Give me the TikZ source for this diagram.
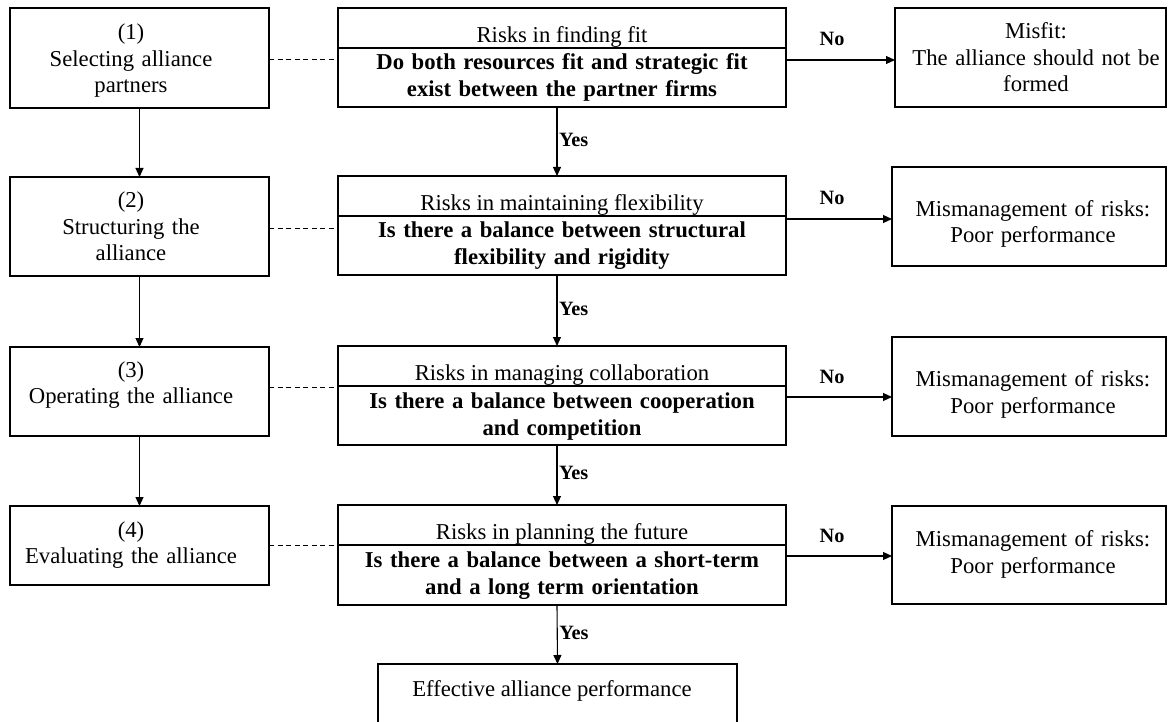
\documentclass[tikz,border=0pt]{standalone}
\usepackage{fontspec}
\setmainfont{Liberation Serif}
\usetikzlibrary{arrows.meta}
\begin{document}
\begin{tikzpicture}[x=1pt,y=-1pt,
  box/.style={draw,line width=1.1pt,inner sep=0pt,outer sep=0pt,anchor=north west},
  norm/.style={font=\fontsize{22.7}{26.3}\selectfont,align=center,inner sep=0pt,anchor=base},
  boldt/.style={font=\fontsize{22.7}{27}\selectfont\bfseries,align=center,inner sep=0pt,anchor=base},
  lab/.style={font=\fontsize{20.3}{24}\selectfont\bfseries,inner sep=1.5pt},
  arr/.style={line width=1.1pt,-{Triangle[length=9pt,width=8pt]}},
  dashline/.style={line width=0.9pt,dash pattern=on 5pt off 3.5pt}]
\useasboundingbox (0,0) rectangle (1168,722);

% left column
\node[box,minimum width=259pt,minimum height=100pt] (L1) at (10,8) {};
\node[box,minimum width=259pt,minimum height=99pt] (L2) at (10,177) {};
\node[box,minimum width=259pt,minimum height=89pt] (L3) at (10,347) {};
\node[box,minimum width=259pt,minimum height=79pt] (L4) at (10,506) {};
\node[norm,text width=250pt] (L1t) at (131,40) {(1)\\Selecting alliance\\partners};
\node[norm,text width=250pt] (L2t) at (131,208) {(2)\\Structuring the\\alliance};
\node[norm,text width=250pt] (L3t) at (131,377) {(3)\\Operating the alliance};
\node[norm,text width=250pt] (L4t) at (131,537) {(4)\\Evaluating the alliance};

% middle column
\node[box,minimum width=448pt,minimum height=99pt] (M1) at (338,8) {};
\node[box,minimum width=448pt,minimum height=99pt] (M2) at (338,176) {};
\node[box,minimum width=448pt,minimum height=99pt] (M3) at (338,346) {};
\node[box,minimum width=448pt,minimum height=100pt] (M4) at (338,505) {};
\coordinate (dv1) at (0,48);
\coordinate (dv2) at (0,216);
\coordinate (dv3) at (0,386);
\coordinate (dv4) at (0,545);
\draw[line width=1.1pt] (M1.west |- dv1) -- (M1.east |- dv1);
\draw[line width=1.1pt] (M2.west |- dv2) -- (M2.east |- dv2);
\draw[line width=1.1pt] (M3.west |- dv3) -- (M3.east |- dv3);
\draw[line width=1.1pt] (M4.west |- dv4) -- (M4.east |- dv4);
\node[norm] (M1a) at (562,42.5) {Risks in finding fit};
\node[norm] (M2a) at (562,210.5) {Risks in maintaining flexibility};
\node[norm] (M3a) at (562,380.5) {Risks in managing collaboration};
\node[norm] (M4a) at (562,539.5) {Risks in planning the future};
\node[boldt,text width=440pt] (M1b) at (562,70) {Do both resources fit and strategic fit\\exist between the partner firms};
\node[boldt,text width=440pt] (M2b) at (562,238) {Is there a balance between structural\\flexibility and rigidity};
\node[boldt,text width=440pt] (M3b) at (562,408) {Is there a balance between cooperation\\and competition};
\node[boldt,text width=440pt] (M4b) at (562,567) {Is there a balance between a short-term\\and a long term orientation};

% right column
\node[box,minimum width=271pt,minimum height=99pt] (R1) at (895,8) {};
\node[box,minimum width=274pt,minimum height=99pt] (R2) at (892,167) {};
\node[box,minimum width=274pt,minimum height=99pt] (R3) at (892,337) {};
\node[box,minimum width=274pt,minimum height=98pt] (R4) at (892,506) {};
\node[norm,text width=265pt] (R1t) at (1036,39) {Misfit:\\The alliance should not be\\formed};
\node[norm,text width=265pt] (R2t) at (1033,216.7) {Mismanagement of risks:\\Poor performance};
\node[norm,text width=265pt] (R3t) at (1033,386.7) {Mismanagement of risks:\\Poor performance};
\node[norm,text width=265pt] (R4t) at (1033,546.7) {Mismanagement of risks:\\Poor performance};

% bottom
\node[box,minimum width=359pt,minimum height=70pt] (B) at (378,664) {};
\node[norm] (Bt) at (552,696) {Effective alliance performance};

% left arrows
\draw[arr] (L1.south) -- (L2.north);
\draw[arr] (L2.south) -- (L3.north);
\draw[arr] (L3.south) -- (L4.north);

% dashed links
\coordinate (d1) at (0,59);
\coordinate (d2) at (0,228);
\coordinate (d3) at (0,387);
\coordinate (d4) at (0,545);
\draw[dashline] (L1.east |- d1) -- (M1.west |- d1);
\draw[dashline] (L2.east |- d2) -- (M2.west |- d2);
\draw[dashline] (L3.east |- d3) -- (M3.west |- d3);
\draw[dashline] (L4.east |- d4) -- (M4.west |- d4);

% yes arrows
\draw[arr] ([xshift=-5pt]M1.south) -- node[lab,right,yshift=2pt] (y1) {Yes} ([xshift=-5pt]M2.north);
\draw[arr] ([xshift=-5pt]M2.south) -- node[lab,right,yshift=2pt] (y2) {Yes} ([xshift=-5pt]M3.north);
\draw[arr] ([xshift=-5pt]M3.south) -- node[lab,right,yshift=2pt] (y3) {Yes} ([xshift=-5pt]M4.north);
\draw[arr] ([xshift=-5pt]M4.south) -- node[lab,right,yshift=2pt] (y4) {Yes} (B.north);

% no arrows
\coordinate (n1) at (0,60);
\coordinate (n2) at (0,219);
\coordinate (n3) at (0,397);
\coordinate (n4) at (0,556);
\draw[arr] (M1.east |- n1) -- (R1.west |- n1);
\draw[arr] (M2.east |- n2) -- (R2.west |- n2);
\draw[arr] (M3.east |- n3) -- (R3.west |- n3);
\draw[arr] (M4.east |- n4) -- (R4.west |- n4);
\node[lab,anchor=base,inner sep=0pt] (no1) at (832,46) {No};
\node[lab,anchor=base,inner sep=0pt] (no2) at (832,205) {No};
\node[lab,anchor=base,inner sep=0pt] (no3) at (832,383) {No};
\node[lab,anchor=base,inner sep=0pt] (no4) at (832,542) {No};
\end{tikzpicture}
\end{document}
